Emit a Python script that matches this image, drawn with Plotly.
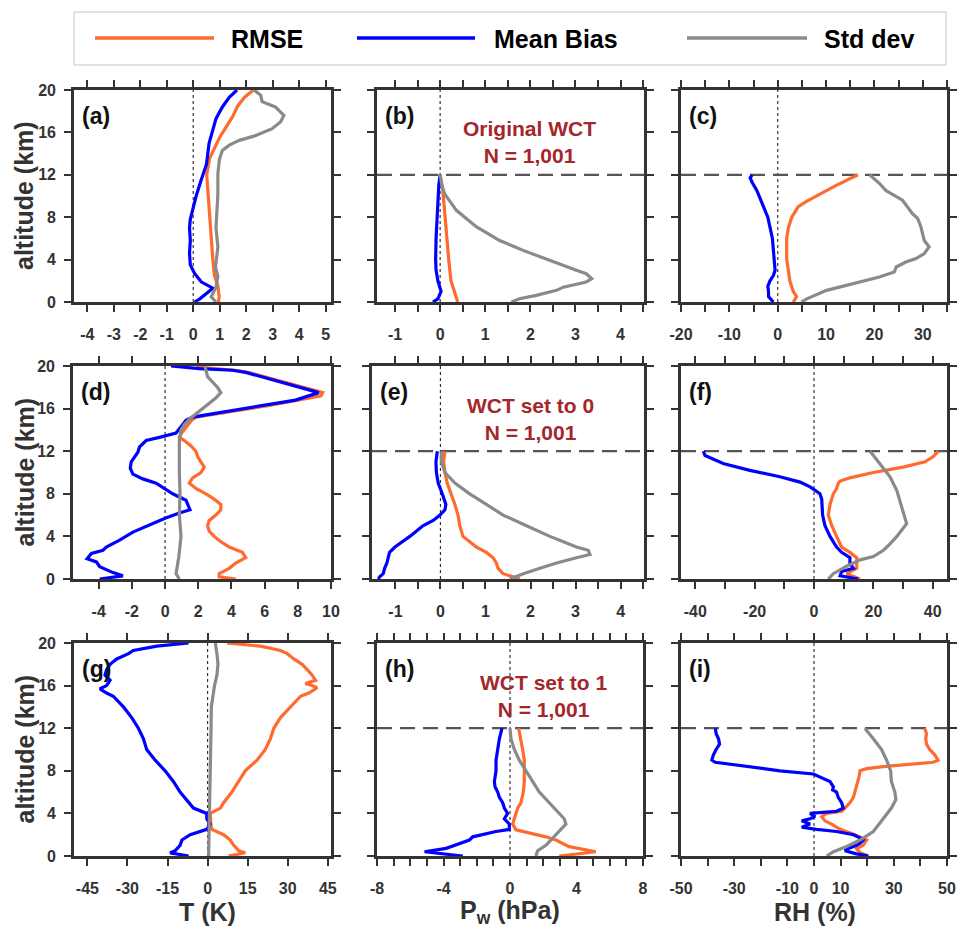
import plotly.graph_objects as go

# ---------------------------------------------------------------------------
# Profiles: altitude (km) and statistic value for each panel and statistic
# ---------------------------------------------------------------------------
# (a) temperature, original WCT
a_rmse_alt = [0, 0.5, 1.5, 2.5, 4, 6, 8, 10, 12, 13.5, 14.5, 15.5, 16.5, 17.5, 18.5, 19.3, 20]
a_rmse = [0.95, 0.98, 0.93, 0.8, 0.74, 0.68, 0.61, 0.55, 0.51, 0.61, 0.8, 0.99, 1.24, 1.49, 1.68, 1.93, 2.27]
a_bias_alt = [0, 0.3, 1.3, 1.9, 2.7, 3.5, 4.6, 5.8, 7, 7.8, 8.9, 10, 11.5, 13, 15, 16.2, 17.3, 18.4, 19.3, 20]
a_bias = [0.05, 0.25, 0.74, 0.3, 0.05, -0.11, -0.14, -0.11, -0.14, -0.11, 0, 0.11, 0.3, 0.5, 0.6, 0.74, 0.86, 1.1, 1.36, 1.65]
a_std_alt = [0, 0.5, 1.4, 2.4, 3.3, 5.2, 7, 8.3, 10.2, 12.1, 13.5, 14.3, 14.8, 15.25, 15.7, 16.35, 17, 17.6, 18.4, 18.9, 19.5, 20]
a_std = [0.86, 0.68, 0.86, 0.93, 0.84, 0.93, 0.86, 0.9, 0.93, 0.93, 0.99, 1.1, 1.36, 1.74, 2.36, 2.98, 3.3, 3.42, 3.1, 2.6, 2.55, 2.3]

# (b) water-vapour pressure, original WCT
b_rmse_alt = [0, 1, 2, 4, 6, 8, 9, 10.5, 12]
b_rmse = [0.39, 0.32, 0.24, 0.19, 0.15, 0.11, 0.1, 0.06, 0.0]
b_bias_alt = [0, 0.3, 1, 2, 3, 4, 6, 8, 10, 11, 12]
b_bias = [-0.16, -0.05, 0.02, -0.05, -0.09, -0.1, -0.09, -0.07, -0.05, -0.03, 0.0]
b_std_alt = [0, 0.31, 0.63, 1.1, 1.4, 1.89, 2.2, 2.67, 3.0, 3.46, 4.25, 4.87, 5.8, 7.1, 8.65, 10.2, 11, 12]
b_std = [1.58, 1.76, 2.13, 2.58, 2.73, 3.24, 3.36, 3.24, 3.02, 2.73, 2.28, 1.84, 1.32, 0.8, 0.36, 0.1, 0.04, 0.0]

# (c) relative humidity, original WCT
c_rmse_alt = [0, 0.5, 1, 2, 3, 4, 6, 7, 8, 9, 9.5, 10, 11, 12]
c_rmse = [3.2, 3.9, 3.2, 2.5, 2.2, 1.85, 1.85, 2.2, 2.9, 4.25, 5.96, 8.0, 12.1, 16.6]
c_bias_alt = [0, 0.5, 1, 1.5, 2, 2.5, 3, 4, 6, 8, 9.5, 10.5, 11.3, 11.7, 12]
c_bias = [-0.9, -1.9, -1.9, -2.05, -1.6, -0.9, -0.55, -0.68, -1.1, -2.05, -3.3, -4.3, -5.3, -5.7, -5.3]
c_std_alt = [0, 0.3, 1.1, 1.57, 2.04, 2.36, 2.83, 3.3, 3.77, 4.1, 4.56, 5.2, 5.8, 6.45, 7.1, 7.9, 8.3, 9.6, 10.5, 11.2, 12]
c_std = [4.9, 6.0, 10.1, 14.2, 18.3, 21.0, 24.1, 24.5, 26.5, 28.6, 30.3, 31.3, 30.3, 29.9, 29.6, 28.9, 27.9, 25.8, 22.4, 21.0, 19.0]

# (d) temperature, WCT set to 0
d_rmse_alt = [0, 0.2, 0.5, 1, 1.5, 2, 2.5, 3, 3.5, 4, 4.5, 5, 5.5, 6, 6.5, 7, 7.5, 8, 8.5, 9,
              9.5, 10, 10.5, 11, 11.5, 12, 12.5, 13, 13.3, 13.7, 14.3, 14.9, 15.2, 15.4, 15.8, 16.3,
              16.8, 17.2, 17.5, 18, 18.5, 19.1, 19.4, 19.6, 19.9]
d_rmse = [4.26, 3.26, 3.26, 3.86, 4.26, 4.86, 4.66, 3.86, 3.36, 2.96, 2.66, 2.56, 2.66, 3.06, 3.36, 3.36, 2.96, 2.46, 1.86, 1.46,
          1.66, 2.16, 2.36, 2.16, 1.96, 1.86, 1.56, 1.16, 0.86, 1.0, 1.3, 1.6, 1.86, 2.6, 4.3, 6.3,
          8.0, 9.4, 9.5, 8.3, 7.0, 5.6, 5.0, 4.2, 1.9]
d_bias_alt = [0, 0.3, 0.6, 1.15, 1.6, 1.9, 2.4, 2.7, 3.0, 3.65, 4.4, 5.1, 5.7, 6.2, 6.5, 7.4, 8, 9, 9.4, 9.85,
              10.4, 11, 11.5, 11.9, 12.4, 13, 13.3, 13.7, 14.3, 14.9, 15.2, 15.4, 15.8, 16.3, 16.8, 17.5,
              18, 18.5, 19.1, 19.4, 19.6, 19.75, 20]
d_bias = [-3.94, -2.54, -3.14, -3.94, -4.14, -4.7, -4.44, -3.74, -3.54, -2.74, -1.94, -0.94, 0, 0.86, 1.5, 1.26, 0.46, -0.54, -1.34, -1.94,
          -2.1, -2.04, -1.84, -1.64, -1.54, -1.14, -0.34, 0.66, 0.96, 1.26, 1.66, 2.46, 4.06, 6.06, 7.86, 9.26,
          8.06, 6.86, 5.46, 4.86, 4.06, 2.06, 0.36]
d_std_alt = [0, 0.5, 2, 4, 6, 8, 10, 13, 14, 14.5, 15, 15.5, 16, 16.5, 17, 17.5, 18, 18.5, 19, 20]
d_std = [0.86, 0.66, 0.82, 0.96, 0.86, 0.9, 0.86, 0.86, 0.96, 1.16, 1.46, 1.86, 2.26, 2.66, 3.06, 3.36, 3.16, 2.86, 2.56, 2.4]

# (e) water-vapour pressure, WCT set to 0
e_rmse_alt = [0, 0.5, 1, 1.5, 2, 2.5, 3, 3.5, 4, 5, 6, 7, 8, 9, 10, 11, 12]
e_rmse = [1.76, 1.39, 1.28, 1.24, 1.17, 1.02, 0.8, 0.65, 0.5, 0.43, 0.39, 0.32, 0.24, 0.15, 0.1, 0.07, 0.1]
e_bias_alt = [0, 0.2, 0.5, 1, 1.5, 2, 2.5, 3, 3.5, 4, 4.5, 5, 5.5, 6, 6.5, 7, 8, 9, 10, 11, 12]
e_bias = [-1.38, -1.35, -1.27, -1.24, -1.19, -1.16, -1.13, -1.01, -0.83, -0.68, -0.53, -0.39, -0.16, -0.01, 0.1, 0.12, 0.04, -0.05, -0.09, -0.1, -0.07]
e_std_alt = [0, 0.5, 1, 1.5, 2, 2.3, 2.7, 3, 3.5, 4, 5, 6, 7, 8, 9, 10, 11, 12]
e_std = [1.54, 1.84, 2.21, 2.58, 3.02, 3.32, 3.28, 3.02, 2.73, 2.43, 1.91, 1.39, 1.02, 0.65, 0.32, 0.1, 0.02, 0.02]

# (f) relative humidity, WCT set to 0
f_rmse_alt = [0, 0.5, 1, 1.5, 2, 2.5, 3, 4, 5, 6, 7, 8, 8.5, 9, 9.2, 9.5, 10, 10.5, 11, 11.5, 12]
f_rmse = [15.5, 11, 14.4, 14.4, 14.4, 12.1, 9.3, 7.6, 6.0, 4.8, 5.4, 6.5, 7.6, 8.2, 8.8, 12.1, 20, 30, 37.4, 40.2, 41.9]
f_bias_alt = [0, 0.3, 0.7, 1, 1.5, 2, 2.5, 3, 4, 5, 6, 7, 7.5, 8, 8.3, 8.65, 9.1, 9.6, 10.2, 10.85, 11.6, 12]
f_bias = [14.9, 8.8, 9.3, 13.3, 12.1, 12.1, 9.3, 7.6, 5.4, 3.7, 2.9, 2.6, 2.6, 2.0, 0.3, -1.3, -4.7, -11.5, -21.6, -30.6, -36.7, -37.3]
f_std_alt = [0, 0.5, 1.2, 1.8, 2.1, 2.7, 3.3, 4.0, 5.2, 6.2, 7.4, 8.3, 9.6, 10.8, 12]
f_std = [4.8, 6.5, 11, 15.5, 20, 23.4, 25.6, 27.9, 31.2, 30.1, 29, 27.9, 25.6, 22.2, 18.9]

# (g) temperature, WCT set to 1
g_rmse_alt = [0, 0.3, 0.5, 1, 1.5, 2, 2.5, 3, 4, 4.5, 5, 6, 7, 8, 9, 10, 11, 12, 13, 14,
              15, 15.3, 15.8, 16, 16.2, 16.5, 17, 17.5, 18, 18.5, 19, 19.3, 19.7, 20]
g_rmse = [7.9, 14.1, 11.6, 9.8, 8.5, 6, 1.6, 1.2, 1, 4.8, 6, 9.1, 11.6, 14.1, 18.5, 21.6, 23.5, 24.8, 27.3, 31,
          34.8, 37.9, 41, 39.1, 36.6, 40.4, 39.1, 37.3, 35.4, 32.3, 29.8, 27.3, 19.8, 7.3]
g_bias_alt = [0, 0.3, 0.5, 1, 1.5, 2, 2.5, 3, 3.5, 4, 4.5, 5, 6, 7, 8, 9, 10, 11, 12, 13,
              14, 15, 15.3, 15.7, 16, 16.5, 17, 17.5, 18, 18.5, 19, 19.3, 19.7, 20]
g_bias = [-7.1, -14, -12.1, -10.3, -9.6, -6.5, -0.3, 1, -0.3, -0.3, -5.3, -7.1, -10.3, -12.8, -15.9, -19.6, -22.8, -24, -25.9, -28.4,
          -31.5, -35.3, -37.8, -40.3, -37.8, -36.5, -38.4, -37.8, -36.5, -34, -29.6, -27.8, -19, -7.1]
g_std_alt = [0, 4, 8, 12, 14, 15, 16, 17, 18, 19, 20]
g_std = [0.4, 0.8, 1, 1.3, 1.4, 2, 2.6, 3.5, 3.9, 3.5, 2.9]

# (h) water-vapour pressure, WCT set to 1
h_rmse_alt = [0, 0.4, 0.88, 1.5, 1.8, 2.2, 2.45, 3, 3.5, 4, 4.5, 5, 6, 7, 8, 9, 10, 11, 12]
h_rmse = [2.96, 5.16, 3.56, 2.76, 2.16, 1.16, 0.36, 0.16, 0.26, 0.36, 0.46, 0.66, 0.8, 0.86, 0.86, 0.86, 0.76, 0.66, 0.52]
h_bias_alt = [0, 0.4, 0.72, 1.5, 1.8, 2.3, 2.5, 3, 3.5, 4, 4.5, 5, 5.5, 6, 6.5, 7, 8, 9, 10, 11, 12]
h_bias = [-2.84, -5.14, -3.84, -2.44, -2.24, -0.84, -0.04, -0.04, -0.34, -0.14, -0.34, -0.44, -0.64, -0.74, -0.9, -0.94, -0.84, -0.84, -0.74, -0.64, -0.48]
h_std_alt = [0, 0.5, 1, 1.5, 2, 2.5, 3, 3.5, 4, 5, 6, 7, 8, 9, 10, 11, 12]
h_std = [1.56, 1.66, 2.16, 2.46, 2.76, 3.06, 3.36, 3.26, 2.96, 2.36, 1.76, 1.36, 0.96, 0.56, 0.26, 0.06, 0]

# (i) relative humidity, WCT set to 1
i_rmse_alt = [0, 0.3, 0.7, 1, 1.5, 2, 2.5, 3, 3.3, 3.7, 4, 4.2, 4.5, 5, 5.5, 6, 6.5, 7, 7.5, 8,
              8.2, 8.4, 8.6, 8.8, 9, 9.5, 10, 10.5, 11, 11.5, 12]
i_rmse = [20.4, 17.3, 16, 18.5, 19.8, 15.4, 9.8, 6.6, 4.1, 2.9, 4.8, 10.4, 11.6, 13.5, 14.8, 15.4, 16, 16.6, 17, 17.3,
          19.8, 26, 34.8, 44.8, 46.6, 45.4, 43.5, 42.3, 42, 42.3, 41.6]
i_bias_alt = [0, 0.2, 0.5, 0.7, 1, 1.2, 1.5, 1.7, 2, 2.3, 2.5, 2.7, 3, 3.3, 3.5, 3.7, 4, 4.2, 4.5, 5,
              5.5, 6, 6.2, 6.5, 7, 7.3, 7.7, 8, 8.3, 8.5, 8.8, 9, 9.5, 10, 10.5, 11, 11.5, 12]
i_bias = [20.4, 16, 11.6, 12.9, 16, 17.3, 18.5, 17.3, 14.8, 8.5, 1, -4.6, -1.5, -4.6, -1.5, 0.4, -1.5, 8.5, 11, 10.4,
          9.1, 8.5, 7, 7.3, 6, 3.5, -0.25, -12.8, -21.5, -29, -37.1, -38.4, -37.8, -36.8, -35.5, -35.9, -36.8, -37.1]
i_std_alt = [0, 0.4, 0.9, 1.5, 2.3, 3.1, 3.9, 4.5, 5.3, 6, 7, 8, 9, 10, 11, 12]
i_std = [4.8, 7.3, 12.3, 17.3, 22.3, 24.8, 27.3, 29.1, 30.8, 30.4, 29.1, 28.8, 27.3, 25.4, 22.3, 19.1]

# Axis ticks for each panel: labelled major ticks and unlabelled minor ticks
y_ticks = [0, 4, 8, 12, 16, 20]
a_ticks = [-4, -3, -2, -1, 0, 1, 2, 3, 4, 5]
a_minor = []
pw_ticks = [-1, 0, 1, 2, 3, 4]
pw_minor = [-0.5, 0.5, 1.5, 2.5, 3.5, 4.5]
c_ticks = [-20, -10, 0, 10, 20, 30]
c_minor = [-15, -5, 5, 15, 25, 35]
d_ticks = [-4, -2, 0, 2, 4, 6, 8, 10]
d_minor = []
f_ticks = [-40, -20, 0, 20, 40]
f_minor = [-30, -10, 10, 30]
g_ticks = [-45, -30, -15, 0, 15, 30, 45]
g_minor = []
h_ticks = [-8, -4, 0, 4, 8]
h_minor = [-7, -6, -5, -3, -2, -1, 1, 2, 3, 5, 6, 7]
i_ticks = [-50, -30, -10, 0, 10, 30, 50]
i_minor = [-40, -20, 20, 40]

series_names = ["RMSE", "Mean Bias", "Std dev"]
series_colors = ["#FF6A2E", "#0000FF", "#8A8A8A"]
panel_tags = ["(a)", "(b)", "(c)", "(d)", "(e)", "(f)", "(g)", "(h)", "(i)"]
case_texts = ["Original WCT", "WCT set to 0", "WCT set to 1"]
sample_size = "N = 1,001"
x_titles = ["T (K)", "P<sub>w</sub> (hPa)", "RH (%)"]
y_title = "altitude (km)"

# ---------------------------------------------------------------------------
W, H = 958, 931
FONT = "Arial, Liberation Sans, sans-serif"
AXC = "#333333"


def fx(p):
    return p / W


def fy(p):
    return 1 - p / H


panels = [
    # (rmse, bias, std, major ticks, minor ticks, x range, x pixel span, row)
    ((a_rmse_alt, a_rmse), (a_bias_alt, a_bias), (a_std_alt, a_std), a_ticks, a_minor, [-4.5, 5.2], (74, 331), 0),
    ((b_rmse_alt, b_rmse), (b_bias_alt, b_bias), (b_std_alt, b_std), pw_ticks, pw_minor, [-1.4, 4.52], (377, 644), 0),
    ((c_rmse_alt, c_rmse), (c_bias_alt, c_bias), (c_std_alt, c_std), c_ticks, c_minor, [-20, 35], (681, 947), 0),
    ((d_rmse_alt, d_rmse), (d_bias_alt, d_bias), (d_std_alt, d_std), d_ticks, d_minor, [-5.55, 10.0], (73, 331), 1),
    ((e_rmse_alt, e_rmse), (e_bias_alt, e_bias), (e_std_alt, e_std), pw_ticks, pw_minor, [-1.52, 4.52], (372, 644), 1),
    ((f_rmse_alt, f_rmse), (f_bias_alt, f_bias), (f_std_alt, f_std), f_ticks, f_minor, [-44.8, 44.8], (681, 947), 1),
    ((g_rmse_alt, g_rmse), (g_bias_alt, g_bias), (g_std_alt, g_std), g_ticks, g_minor, [-50, 46.2], (74, 331), 2),
    ((h_rmse_alt, h_rmse), (h_bias_alt, h_bias), (h_std_alt, h_std), h_ticks, h_minor, [-8, 8], (377, 643), 2),
    ((i_rmse_alt, i_rmse), (i_bias_alt, i_bias), (i_std_alt, i_std), i_ticks, i_minor, [-50, 50], (681, 947), 2),
]
row_px = [(90, 302), (366, 579), (643, 856)]

fig = go.Figure()
layout = {}
shapes = []
annotations = []

for k, (rmse, bias, std, ticks, minor, xr, (xl, xrgt), row) in enumerate(panels):
    n = k + 1
    sfx = "" if n == 1 else str(n)
    col = k % 3
    top, bot = row_px[row]

    # curves: RMSE first, then mean bias, then std dev on top
    for (alt, val), name, color in zip((rmse, bias, std), series_names, series_colors):
        fig.add_trace(go.Scatter(
            x=val, y=alt, mode="lines", name=name, showlegend=False,
            line=dict(color=color, width=3.2), hoverinfo="skip",
            xaxis="x" + sfx, yaxis="y" + sfx,
        ))

    tickfont = dict(family=FONT, size=16, color=AXC, weight="bold")
    xaxis = dict(
        domain=[fx(xl), fx(xrgt)], anchor="y" + sfx, range=xr,
        tickmode="array", tickvals=ticks, ticktext=[str(t) for t in ticks],
        ticks="outside", ticklen=7, tickwidth=2, tickcolor=AXC,
        showline=True, linewidth=2.6, linecolor=AXC, mirror="ticks",
        showgrid=False, zeroline=False, tickfont=tickfont,
        ticklabelstandoff=9, automargin=False,
    )
    if minor:
        xaxis["minor"] = dict(tickmode="array", tickvals=minor, ticks="outside",
                              ticklen=7, tickwidth=2, tickcolor=AXC, showgrid=False)
    layout["xaxis" + sfx] = xaxis
    layout["yaxis" + sfx] = dict(
        domain=[fy(bot), fy(top)], anchor="x" + sfx, range=[0, 20],
        tickmode="array", tickvals=y_ticks,
        ticks="outside", ticklen=7, tickwidth=2, tickcolor=AXC,
        showline=True, linewidth=2.6, linecolor=AXC, mirror="ticks",
        showgrid=False, zeroline=False, tickfont=tickfont,
        showticklabels=(col == 0), ticklabelstandoff=5, automargin=False,
    )

    # zero reference (vertical dotted line)
    shapes.append(dict(
        type="line", xref="x" + sfx, x0=0, x1=0, yref="y" + sfx + " domain", y0=0, y1=1,
        line=dict(color="#333333", width=1.2, dash="3px,3px"), layer="below",
    ))
    # 12 km level for the humidity variables
    if col > 0:
        shapes.append(dict(
            type="line", xref="x" + sfx + " domain", x0=0, x1=1, yref="y" + sfx, y0=12, y1=12,
            line=dict(color="#555555", width=2.2, dash="15px,8px"), layer="below",
        ))

    # panel tag
    annotations.append(dict(
        text=panel_tags[k], x=fx(xl + 6), y=fy(top + 26), xref="paper", yref="paper",
        xanchor="left", yanchor="middle", showarrow=False,
        font=dict(family=FONT, size=23, color="#111111", weight="bold"),
    ))

# case descriptions in the middle column
case_pos = [(529, 142), (530, 419), (543, 696)]
for txt, (px, py) in zip(case_texts, case_pos):
    annotations.append(dict(
        text=txt + "<br>" + sample_size, x=fx(px), y=fy(py), xref="paper", yref="paper",
        xanchor="center", yanchor="middle", showarrow=False, align="center",
        font=dict(family=FONT, size=21, color="#A3272B", weight="bold"),
    ))

# axis titles
for txt, px in zip(x_titles, [207, 510, 815]):
    annotations.append(dict(
        text=txt, x=fx(px), y=fy(912), xref="paper", yref="paper",
        xanchor="center", yanchor="middle", showarrow=False,
        font=dict(family=FONT, size=25, color="#333333", weight="bold"),
    ))
for top, bot in row_px:
    annotations.append(dict(
        text=y_title, x=fx(24), y=fy((top + bot) / 2), xref="paper", yref="paper",
        xanchor="center", yanchor="middle", showarrow=False, textangle=-90,
        font=dict(family=FONT, size=25, color="#333333", weight="bold"),
    ))

# legend box with long line samples
shapes.append(dict(
    type="rect", xref="paper", yref="paper", x0=fx(74), x1=fx(946), y0=fy(65), y1=fy(12),
    line=dict(color="#C4C4C4", width=1), fillcolor="white", layer="below",
))
legend_spans = [(95, 214, 229), (357, 475, 492), (687, 807, 822)]
for (x0, x1, xt), name, color in zip(legend_spans, series_names, series_colors):
    shapes.append(dict(
        type="line", xref="paper", yref="paper", x0=fx(x0), x1=fx(x1), y0=fy(38), y1=fy(38),
        line=dict(color=color, width=3.5),
    ))
    annotations.append(dict(
        text=name, x=fx(xt), y=fy(39), xref="paper", yref="paper",
        xanchor="left", yanchor="middle", showarrow=False,
        font=dict(family=FONT, size=25, color="#000000", weight="bold"),
    ))

fig.update_layout(
    template="none",
    width=W, height=H,
    margin=dict(l=0, r=0, t=0, b=0),
    paper_bgcolor="white", plot_bgcolor="white",
    showlegend=False,
    shapes=shapes, annotations=annotations,
    **layout,
)

fig.write_html("out.html", config={"displayModeBar": False})
